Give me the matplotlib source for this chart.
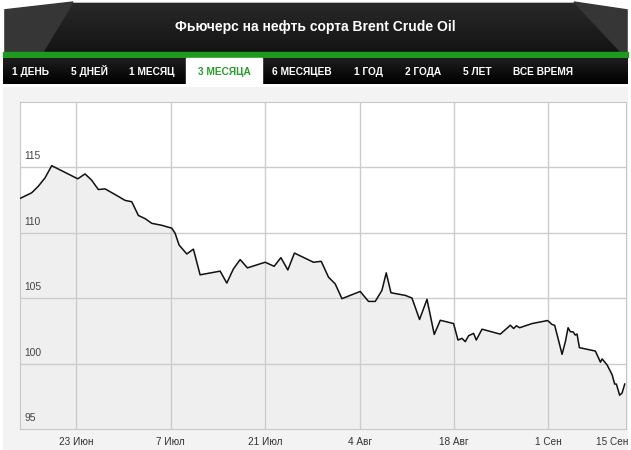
import numpy as np
import matplotlib.pyplot as plt
from matplotlib.colors import LinearSegmentedColormap
from matplotlib.patches import Rectangle, Polygon

# days counted from 23 Jun (0 = 23 Июн)
days = [-8.35, -6.62, -5.64, -4.64, -3.65, 0.21, 1.29, 2.28, 3.26, 4.26,
        5.74, 7.23, 8.22, 9.20, 10.19, 11.19, 12.67, 14.15, 14.64, 15.24,
        16.38, 17.36, 18.35, 21.32, 22.31, 23.29, 24.29, 25.37, 28.0, 29.33,
        30.33, 31.36, 32.34, 35.16, 36.31, 37.39, 38.38, 39.38, 42.09, 43.32,
        44.32, 45.31, 45.95, 46.65, 48.77, 49.76, 50.89, 51.99, 53.07, 53.96,
        55.93, 56.59, 57.18, 57.67, 58.16, 58.9, 59.3, 60.15, 62.86, 64.35,
        64.84, 65.24, 65.73, 67.57, 69.88, 70.53, 70.92, 71.42, 72.02, 72.51,
        72.91, 73.25, 73.65, 73.99, 74.24, 74.59, 76.96, 77.71, 77.96, 78.70,
        79.44, 79.82, 80.07, 80.56, 80.92, 81.31]
price = [112.6, 113.03, 113.53, 114.17, 115.1, 114.1, 114.47, 113.99, 113.28, 113.33,
         112.9, 112.45, 112.35, 111.3, 111.06, 110.7, 110.55, 110.33, 109.95, 109.04,
         108.36, 108.73, 106.77, 107.05, 106.14, 107.22, 107.93, 107.3, 107.73, 107.42,
         108.08, 107.14, 108.43, 107.73, 107.8, 106.59, 106.08, 104.95, 105.5, 104.74,
         104.74, 105.58, 106.92, 105.4, 105.2, 105.0, 103.36, 104.9, 102.22, 103.3,
         103.05, 101.79, 101.92, 101.67, 102.12, 102.3, 101.79, 102.62, 102.24, 102.92,
         102.67, 102.88, 102.73, 103.05, 103.28, 102.98, 102.92, 101.92, 100.70, 101.67,
         102.73, 102.42, 102.42, 102.17, 102.25, 101.21, 100.95, 100.1, 100.35, 99.89,
         99.14, 98.43, 98.43, 97.58, 97.75, 98.43]

tick_days = [0, 14, 28, 42, 56, 70]
tick_labels = ['23 Июн', '7 Июл', '21 Июл', '4 Авг', '18 Авг', '1 Сен']
last_label = '15 Сен'
y_ticks = [95, 100, 105, 110, 115]

title = 'Фьючерс на нефть сорта Brent Crude Oil'
tabs = ['1 ДЕНЬ', '5 ДНЕЙ', '1 МЕСЯЦ', '3 МЕСЯЦА', '6 МЕСЯЦЕВ',
        '1 ГОД', '2 ГОДА', '5 ЛЕТ', 'ВСЕ ВРЕМЯ']
tab_x = [31, 89, 152, 224, 302, 368, 423, 477, 543]
active = 3

W, H = 631, 450
fig = plt.figure(figsize=(W / 100, H / 100), dpi=100)
fig.patch.set_facecolor('white')

# background canvas in pixel coordinates
bg = fig.add_axes([0, 0, 1, 1])
bg.set_xlim(0, W)
bg.set_ylim(H, 0)
bg.axis('off')
bg.set_zorder(0)

# header
grad = np.linspace(0, 1, 60).reshape(-1, 1)
bg.imshow(grad, extent=(0, W, 52, 0), aspect='auto', zorder=0,
          cmap=LinearSegmentedColormap.from_list('hd', ['#2a2a2a', '#141414']))
bg.add_patch(Polygon([(0, 0), (W, 0), (W, 12), (574, 2), (73, 2), (0, 12)],
                     closed=True, color='white', zorder=1))
bg.add_patch(Polygon([(3, 10), (73, 2), (43, 52), (3, 52)], closed=True,
                     color='#363636', zorder=1))
bg.add_patch(Polygon([(574, 2), (628, 10), (628, 52), (621, 52)], closed=True,
                     color='#363636', zorder=1))
bg.add_patch(Rectangle((0, 0), 3, 60, color='white', zorder=2))
bg.add_patch(Rectangle((628, 0), 3, 60, color='white', zorder=2))
bg.text(W / 2, 27, title, color='white', fontsize=10, fontweight='bold',
        family='Liberation Sans', ha='center', va='center', zorder=3)

# green stripe and tab bar
bg.add_patch(Rectangle((3, 52), 625, 5, color='#1f9a1f', zorder=2))
tabgrad = np.linspace(0, 1, 30).reshape(-1, 1)
bg.imshow(tabgrad, extent=(3, 628, 84, 58), aspect='auto', zorder=2,
          cmap=LinearSegmentedColormap.from_list('tb', ['#1e1e1e', '#000000']))
bg.add_patch(Rectangle((186, 58), 76, 26, color='white', zorder=3))
for i, (t, x) in enumerate(zip(tabs, tab_x)):
    bg.text(x, 75.2, t, color='#2a9d2a' if i == active else 'white', fontsize=7.3,
            fontweight='bold', family='Liberation Sans',
            ha='center', va='baseline', zorder=4)

# chart panel
bg.add_patch(Rectangle((3, 87), 625, 363, facecolor='#f3f3f3', edgecolor='none', zorder=0.5))

ax = fig.add_axes([20 / W, (H - 429) / H, 606 / W, 327.5 / H])
ax.set_zorder(1)
ax.set_facecolor('white')
ax.set_xlim(-8.35, 81.5)
ax.set_ylim(95, 120)
ax.fill_between(days, price, 95, color='#efefef', zorder=1)
ax.plot(days, price, color='#111111', lw=1.1, zorder=3)

for y in y_ticks[1:]:
    ax.axhline(y, color='#cccccc', lw=1, zorder=2)
for d in tick_days:
    ax.axvline(d, color='#cccccc', lw=1, zorder=2)
for s in ax.spines.values():
    s.set_color('#c8c8c8')
ax.set_xticks([])
ax.set_yticks([])

for y in y_ticks:
    ax.text(-7.7, y + 0.45, str(y), fontsize=7.4, color='#444444',
            family='Liberation Sans', ha='left', va='bottom')
for d, lab in zip(tick_days, tick_labels):
    ax.text(d, 94.4, lab, fontsize=7.2, color='#333333', family='Liberation Sans',
            ha='center', va='top')
ax.text(81.8, 94.4, last_label, fontsize=7.2, color='#333333', family='Liberation Sans',
        ha='right', va='top')

fig.savefig('out.png', dpi=100, facecolor='white')
